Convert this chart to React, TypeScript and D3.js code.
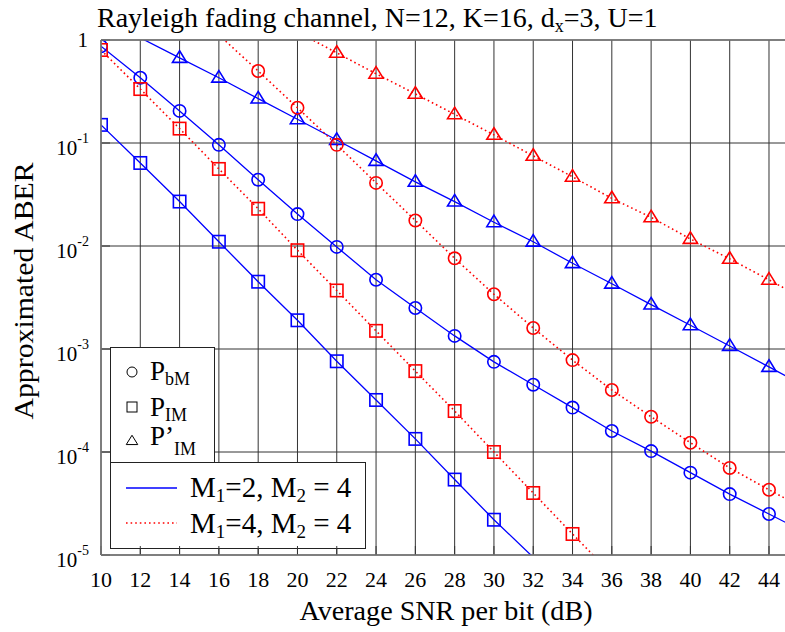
import React from 'react';
import * as d3 from 'd3';

const snr = [10, 12, 14, 16, 18, 20, 22, 24, 26, 28, 30, 32, 34, 36, 38, 40, 42, 44, 46];
const pbmM2: (number | null)[] = [0.87, 0.43, 0.205, 0.096, 0.044, 0.0204, 0.0098, 0.0047, 0.0025, 0.00134, 7.5e-4, 4.5e-4, 2.7e-4, 1.6e-4, 1.02e-4, 6.3e-5, 3.9e-5, 2.5e-5, 1.6e-5];
const pimM2: (number | null)[] = [0.15, 0.064, 0.027, 0.011, 0.0045, 0.0019, 7.6e-4, 3.2e-4, 1.34e-4, 5.4e-5, 2.2e-5, 9.5e-6, null, null, null, null, null, null, null];
const pimpM2: (number | null)[] = [null, 1.05, 0.67, 0.43, 0.27, 0.17, 0.107, 0.067, 0.042, 0.027, 0.017, 0.011, 0.0068, 0.0043, 0.0027, 0.0017, 0.00107, 6.7e-4, 4.2e-4];
const pbmM4: (number | null)[] = [null, null, null, 1.12, 0.5, 0.22, 0.096, 0.041, 0.0177, 0.0076, 0.0034, 0.0016, 7.8e-4, 4.0e-4, 2.2e-4, 1.23e-4, 7.0e-5, 4.3e-5, 2.7e-5];
const pimM4: (number | null)[] = [0.8, 0.334, 0.138, 0.056, 0.023, 0.0091, 0.0037, 0.0015, 6.1e-4, 2.5e-4, 1.0e-4, 4.0e-5, 1.6e-5, 6.5e-6, null, null, null, null, null];
const pimpM4: (number | null)[] = [null, null, null, null, null, 1.2, 0.75, 0.47, 0.30, 0.19, 0.12, 0.075, 0.047, 0.029, 0.019, 0.0117, 0.0075, 0.0047, 0.0029];

const xTicks = [10, 12, 14, 16, 18, 20, 22, 24, 26, 28, 30, 32, 34, 36, 38, 40, 42, 44];
const yTickExps = [0, -1, -2, -3, -4, -5];

const BLUE = '#0000ff';
const RED = '#ff0000';

type Shape = 'circle' | 'square' | 'triangle';
const seriesList: { vals: (number | null)[]; color: string; shape: Shape; dotted: boolean }[] = [
  { vals: pbmM2, color: BLUE, shape: 'circle', dotted: false },
  { vals: pimM2, color: BLUE, shape: 'square', dotted: false },
  { vals: pimpM2, color: BLUE, shape: 'triangle', dotted: false },
  { vals: pbmM4, color: RED, shape: 'circle', dotted: true },
  { vals: pimM4, color: RED, shape: 'square', dotted: true },
  { vals: pimpM4, color: RED, shape: 'triangle', dotted: true },
];

const L = 101, T = 40, B = 555;
const PX_PER_DB = 19.647;
const R = L + 35 * PX_PER_DB;
const TF = { fontFamily: 'Liberation Serif' };

function Marker({ shape, x, y, color, sw = 1.6, s = 6.2 }: { shape: Shape; x: number; y: number; color: string; sw?: number; s?: number }) {
  if (shape === 'circle') return <circle cx={x} cy={y} r={s} fill="none" stroke={color} strokeWidth={sw} />;
  if (shape === 'square') return <rect x={x - s} y={y - s} width={2 * s} height={2 * s} fill="none" stroke={color} strokeWidth={sw} />;
  const t = s * 1.15;
  return <path d={`M${x},${y - t}L${x + t},${y + t * 0.62}L${x - t},${y + t * 0.62}Z`} fill="none" stroke={color} strokeWidth={sw} />;
}

export default function App() {
  const x = d3.scaleLinear().domain([10, 45]).range([L, R]);
  const y = d3.scaleLog().domain([1e-5, 1]).range([B, T]);

  const lineGen = d3
    .line<[number, number | null]>()
    .defined((d) => d[1] != null)
    .x((d) => x(d[0]))
    .y((d) => y(d[1] as number));

  return (
    <svg width={785} height={632} style={{ position: 'absolute', left: 0, top: 0, background: '#fff' }}>
      <defs>
        <clipPath id="plotclip">
          <rect x={L} y={T} width={R - L} height={B - T} />
        </clipPath>
      </defs>
      <rect x={0} y={0} width={785} height={632} fill="#fff" />
      {/* grid */}
      {xTicks.map((t) => (
        <line key={'gx' + t} x1={x(t)} x2={x(t)} y1={T} y2={B} stroke="#333" strokeWidth={1} />
      ))}
      {yTickExps.map((e) => (
        <line key={'gy' + e} x1={L} x2={R} y1={y(Math.pow(10, e))} y2={y(Math.pow(10, e))} stroke="#333" strokeWidth={1} />
      ))}
      {/* series */}
      <g clipPath="url(#plotclip)">
        {seriesList.map((s, i) => {
          const pts = snr.map((v, j) => [v, s.vals[j]] as [number, number | null]);
          return (
            <g key={'s' + i}>
              <path
                d={lineGen(pts) || ''}
                fill="none"
                stroke={s.color}
                strokeWidth={s.dotted ? 1.6 : 1.3}
                strokeDasharray={s.dotted ? '1.6,3' : undefined}
              />
              {pts
                .filter((p) => p[1] != null && (p[1] as number) <= 1 && (p[1] as number) >= 1e-5)
                .map((p, k) => (
                  <Marker key={k} shape={s.shape} x={x(p[0])} y={y(p[1] as number)} color={s.color} />
                ))}
            </g>
          );
        })}
      </g>
      {/* legend 1 */}
      <g>
        <rect x={110.5} y={347.5} width={104} height={117} fill="#fff" stroke="#222" strokeWidth={1} />
        <Marker shape="circle" x={132} y={372} color="#000" sw={1} s={5} />
        <text x={150} y={380} fontSize={27} style={TF}>P<tspan fontSize={18} dy={5}>bM</tspan></text>
        <Marker shape="square" x={132} y={407} color="#000" sw={1} s={5} />
        <text x={150} y={416} fontSize={27} style={TF}>P<tspan fontSize={18} dy={5}>IM</tspan></text>
        <Marker shape="triangle" x={132} y={441} color="#000" sw={1} s={5} />
        <text x={150} y={445} fontSize={27} style={TF}>P’<tspan fontSize={18} dy={10}>IM</tspan></text>
      </g>
      {/* legend 2 */}
      <g>
        <rect x={110.5} y={462.5} width={255} height={86} fill="#fff" stroke="#222" strokeWidth={1} />
        <line x1={126} x2={177} y1={488} y2={488} stroke={BLUE} strokeWidth={1.3} />
        <text x={190} y={497} fontSize={29} style={TF}>M<tspan fontSize={19} dy={5}>1</tspan><tspan dy={-5}>=2, M</tspan><tspan fontSize={19} dy={5}>2</tspan><tspan dy={-5}> = 4</tspan></text>
        <line x1={126} x2={177} y1={523} y2={523} stroke={RED} strokeWidth={1.6} strokeDasharray="1.6,3" />
        <text x={190} y={533} fontSize={29} style={TF}>M<tspan fontSize={19} dy={5}>1</tspan><tspan dy={-5}>=4, M</tspan><tspan fontSize={19} dy={5}>2</tspan><tspan dy={-5}> = 4</tspan></text>
      </g>
      {/* ticks inward */}
      {xTicks.map((t) => (
        <line key={'tx' + t} x1={x(t)} x2={x(t)} y1={B} y2={B - 9} stroke="#333" strokeWidth={1} />
      ))}
      {yTickExps.map((e) => (
        <line key={'ty' + e} x1={L} x2={L + 9} y1={y(Math.pow(10, e))} y2={y(Math.pow(10, e))} stroke="#333" strokeWidth={1} />
      ))}
      {/* frame */}
      <line x1={L} x2={L} y1={T} y2={B} stroke="#777" strokeWidth={1.6} />
      <line x1={L} x2={R} y1={B} y2={B} stroke="#777" strokeWidth={1.6} />
      <line x1={L} x2={R} y1={T} y2={T} stroke="#777" strokeWidth={1.6} />
      {/* x tick labels */}
      {xTicks.map((t) => (
        <text key={'xl' + t} x={x(t)} y={587} fontSize={22} textAnchor="middle" style={TF}>{t}</text>
      ))}
      {/* y tick labels */}
      {yTickExps.map((e) =>
        e === 0 ? (
          <text key={'yl' + e} x={88} y={y(1) + 7} fontSize={21} textAnchor="end" style={TF}>1</text>
        ) : (
          <text key={'yl' + e} x={89} y={y(Math.pow(10, e)) + 12} fontSize={21} textAnchor="end" style={TF}>
            10<tspan fontSize={14} dy={-12}>{e}</tspan>
          </text>
        )
      )}
      {/* axis titles */}
      <text x={446} y={620} fontSize={27} textAnchor="middle" style={TF} textLength={293} lengthAdjust="spacingAndGlyphs">Average SNR per bit (dB)</text>
      <text transform="translate(33,291) rotate(-90)" fontSize={27} textAnchor="middle" style={TF} textLength={257} lengthAdjust="spacingAndGlyphs">Approximated ABER</text>
      {/* title */}
      <text x={97} y={27} fontSize={28} style={TF}>
        Rayleigh fading channel, N=12, K=16, d<tspan fontSize={18} dy={5}>x</tspan><tspan dy={-5}>=3, U=1</tspan>
      </text>
    </svg>
  );
}
